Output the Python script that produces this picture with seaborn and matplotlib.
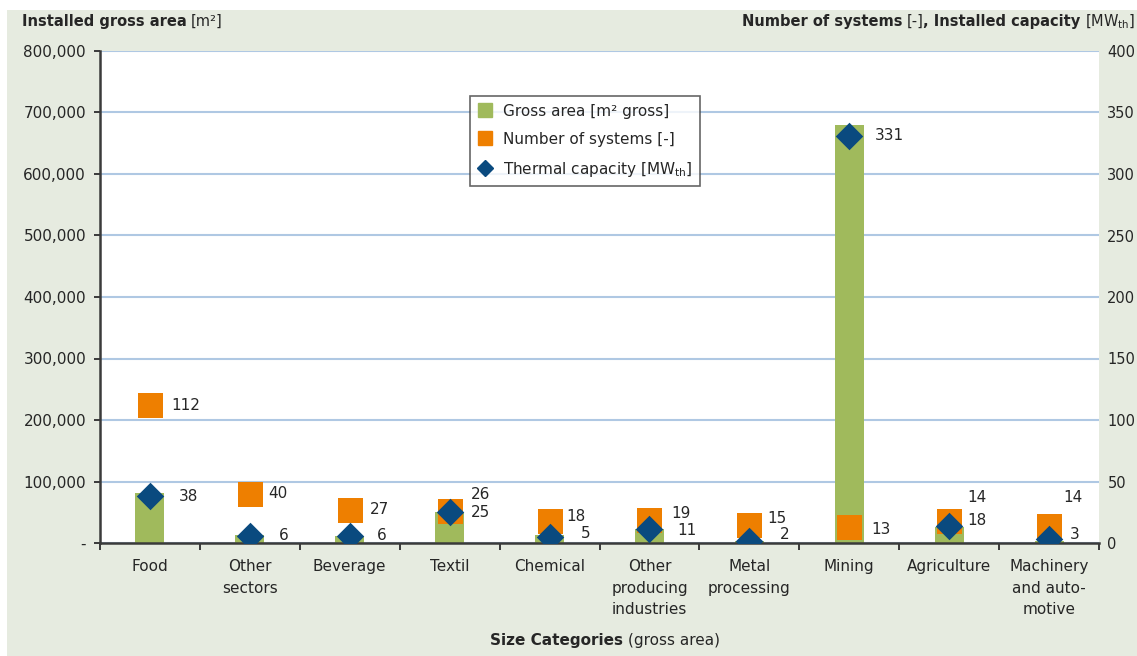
import numpy as np
import pandas as pd
import matplotlib
matplotlib.use("Agg")
import matplotlib.pyplot as plt
import seaborn as sns
from matplotlib.lines import Line2D
from matplotlib.patches import Rectangle
from matplotlib.ticker import FuncFormatter, MultipleLocator, FixedLocator

# ---- data -------------------------------------------------------------
categories = ["Food", "Other\nsectors", "Beverage", "Textil", "Chemical",
              "Other\nproducing\nindustries", "Metal\nprocessing", "Mining",
              "Agriculture", "Machinery\nand auto-\nmotive"]
gross_area = [81000, 13000, 12000, 50000, 13000, 22000, 3000, 680000, 26000, 4000]
num_systems = [112, 40, 27, 26, 18, 19, 15, 13, 18, 14]
thermal_capacity = [38, 6, 6, 25, 5, 11, 2, 331, 14, 3]

# value-label offsets from their marker (pixels, right / up)
sys_dx = [21, 18, 20, 21, 17, 22, 18, 22, 18, 14]
sys_dy = [0, 0, 0, 17, 4, 6, 6, -2, 0, 28]
cap_dx = [29, 29, 27, 21, 31, 28, 31, 26, 18, 21]
cap_dy = [0, 0, 0, 0, 3, -1, 6, 0, 28, 5]

# ---- style ------------------------------------------------------------
GREEN = "#A0BA5C"
ORANGE = "#EE7F00"
NAVY = "#0A4A7F"
GRID = "#AFC8E3"
BG = "#E6EBE0"
INK = "#262626"
W, H = 1137, 656

sns.set_style("white")
FONT = ["Liberation Sans Narrow", "DejaVu Sans"]
plt.rcParams["font.family"] = FONT
plt.rcParams["mathtext.fontset"] = "custom"
plt.rcParams["mathtext.rm"] = "Liberation Sans Narrow"
plt.rcParams["mathtext.bf"] = "Liberation Sans Narrow:bold"

fig = plt.figure(figsize=(W / 100, H / 100), dpi=100, facecolor="white")
fig.patches.append(Rectangle((7 / W, 0), 1 - 7 / W, 1 - 10 / H,
                             transform=fig.transFigure, facecolor=BG,
                             edgecolor="none", zorder=-10))

ax = fig.add_axes([100 / W, 1 - 543 / H, 999 / W, 492 / H])
ax.set_facecolor("white")

df = pd.DataFrame({"category": categories, "area": gross_area,
                   "systems": num_systems, "capacity": thermal_capacity})

# gross area bars on the left axis
sns.barplot(data=df, x="category", y="area", ax=ax, color=GREEN,
            saturation=1, width=0.29, linewidth=0, errorbar=None)

ax.set_ylim(0, 800000)
ax.yaxis.set_major_locator(MultipleLocator(100000))
ax.yaxis.set_major_formatter(FuncFormatter(lambda v, p: "-" if v == 0 else f"{v:,.0f}"))
ax.grid(axis="y", color=GRID, linewidth=1.5)
ax.set_axisbelow(True)
for s in ["top", "right"]:
    ax.spines[s].set_visible(False)
for s in ["left", "bottom"]:
    ax.spines[s].set_color("#3a3a3a")
    ax.spines[s].set_linewidth(1.8)
ax.set_xlabel("")
ax.set_ylabel("")
ax.tick_params(axis="y", left=True, length=4.5, width=1.4, color="#3a3a3a",
               pad=5.5, labelsize=11, labelcolor=INK)
ax.tick_params(axis="x", which="major", length=0, pad=11.5, labelsize=11,
               labelcolor=INK)
ax.xaxis.set_minor_locator(FixedLocator(np.arange(-0.5, len(categories), 1.0)))
ax.tick_params(axis="x", which="minor", bottom=True, length=5, width=1.4,
               color="#3a3a3a")
for lab in ax.get_xticklabels():
    lab.set_linespacing(1.55)
    lab.set_va("top")

# markers on the right axis
ax2 = ax.twinx()
sns.stripplot(data=df, x="category", y="systems", ax=ax2, jitter=False,
              marker="s", size=18, color=ORANGE, linewidth=0, zorder=3)
sns.stripplot(data=df, x="category", y="capacity", ax=ax2, jitter=False,
              marker="D", size=14, color=NAVY, linewidth=0, zorder=4)
ax2.set_ylim(0, 400)
ax2.set_xlim(-0.5, len(categories) - 0.5)
ax2.yaxis.set_major_locator(MultipleLocator(50))
ax2.set_ylabel("")
ax2.set_xlabel("")
for s in ax2.spines.values():
    s.set_visible(False)
ax2.tick_params(axis="y", right=True, length=0, pad=6, labelsize=10.5,
                labelcolor=INK)

for i, (ns, tc) in enumerate(zip(num_systems, thermal_capacity)):
    ax2.annotate(str(ns), xy=(i, ns), xytext=(sys_dx[i] * 0.72, sys_dy[i] * 0.72),
                 textcoords="offset points", ha="left", va="center",
                 fontsize=11, color=INK, zorder=5)
    ax2.annotate(str(tc), xy=(i, tc), xytext=(cap_dx[i] * 0.72, cap_dy[i] * 0.72),
                 textcoords="offset points", ha="left", va="center",
                 fontsize=11, color=INK, zorder=5)

handles = [
    Line2D([], [], marker="s", linestyle="none", markersize=10, color=GREEN),
    Line2D([], [], marker="s", linestyle="none", markersize=10, color=ORANGE),
    Line2D([], [], marker="D", linestyle="none", markersize=8, color=NAVY),
]
labels = ["Gross area [m² gross]", "Number of systems [-]",
          "Thermal capacity [MW$_\\mathrm{th}$]"]
leg = ax2.legend(handles, labels, loc="upper left",
                 bbox_to_anchor=((470 - 100) / 999, (543 - 96) / 492),
                 frameon=True, fancybox=False, fontsize=11, labelspacing=0.85,
                 handletextpad=0.65, handlelength=1.0, borderpad=0.5,
                 borderaxespad=0)
leg.get_frame().set_edgecolor("#404040")
leg.get_frame().set_linewidth(1.2)
for t in leg.get_texts():
    t.set_color(INK)


# ---- axis titles built from bold / regular runs -------------------------
def text_runs(x_px, y_px, runs, align="left", size=10.5):
    renderer = fig.canvas.get_renderer()
    items = []
    x = x_px
    for txt, weight, gap in runs:
        x += gap
        t = fig.text(x / W, 1 - y_px / H, txt, fontsize=size, fontweight=weight,
                     ha="left", va="baseline", color=INK)
        x += t.get_window_extent(renderer).width
        items.append(t)
    shift = {"left": 0, "center": (x - x_px) / 2, "right": x - x_px}[align]
    for t in items:
        px, py = t.get_position()
        t.set_position((px - shift / W, py))


text_runs(22, 26, [("Installed gross area", "bold", 0), ("[m²]", "normal", 4)])
text_runs(1135, 26, [("Number of systems", "bold", 0), ("[-]", "normal", 4),
                     (", Installed capacity", "bold", 0),
                     ("[MW$_\\mathrm{th}$]", "normal", 4)], align="right")
text_runs(605, 645, [("Size Categories", "bold", 0), ("(gross area)", "normal", 4)],
          align="center", size=11)

fig.savefig("out.png", dpi=100, facecolor=fig.get_facecolor())
